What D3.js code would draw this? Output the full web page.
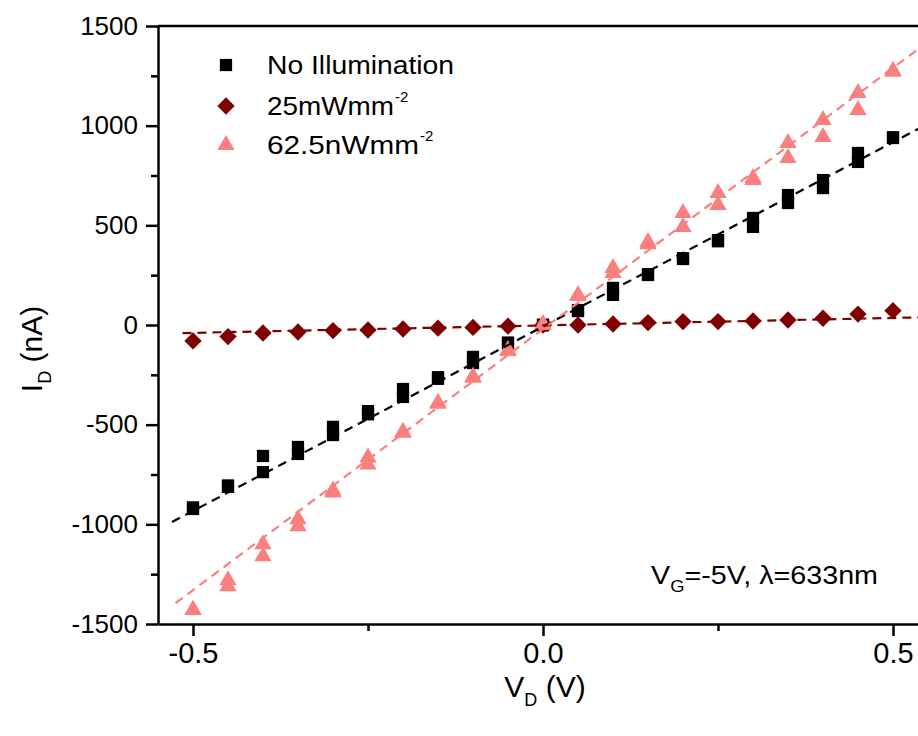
<!DOCTYPE html>
<html>
<head>
<meta charset="utf-8">
<script src="https://cdn.jsdelivr.net/npm/d3@7"></script>
<style>
  body { margin: 0; background: #fff; }
  svg { display: block; font-family: Arial, "Liberation Sans", sans-serif; }
</style>
</head>
<body>
<div id="chart"></div>
<script>
// drain voltage (V), one sample every 50 mV
var voltage = [-0.5, -0.45, -0.4, -0.35, -0.3, -0.25, -0.2, -0.15, -0.1, -0.05, 0,
               0.05, 0.1, 0.15, 0.2, 0.25, 0.3, 0.35, 0.4, 0.45, 0.5];

// drain current (nA), two sweeps for the dark and weak-light runs
var darkSweep1 = [-923, -812, -657, -612, -511, -432, -321, -262, -160, -88, -2,
                  75, 186, 251, 331, 426, 537, 652, 727, 863, 938];
var darkSweep2 = [-915, -805, -738, -647, -552, -448, -361, -270, -191, -92, 2,
                  70, 151, 255, 335, 420, 492, 612, 687, 818, 942];
var strongLight = [-80, -58, -40, -35, -28, -25, -20, -16, -12, -6, 0,
                   0, 5, 12, 17, 17, 20, 25, 34, 55, 72];
var weakSweep1 = [-1430, -1280, -1100, -975, -830, -665, -535, -390, -260, -125, 0,
                  150, 286, 416, 562, 662, 738, 913, 1029, 1164, 1270];
var weakSweep2 = [-1430, -1310, -1160, -1010, -840, -700, -540, -395, -265, -130, 5,
                  145, 261, 405, 492, 602, 728, 838, 943, 1079, 1275];

// linear fits: slope (nA/V), intercept (nA), first voltage
var fitSlope = [1850, 75, 2620];
var fitIntercept = [-8, -2, -20];
var fitStart = [-0.53, -0.515, -0.525];

var seriesNames = ["No Illumination", "25mWmm", "62.5nWmm"];
var seriesSup = ["", "-2", "-2"];
var colors = ["#000000", "#7f0000", "#fa8080"];

var yTicks = [-1500, -1000, -500, 0, 500, 1000, 1500];
var yMinorTicks = [-1250, -750, -250, 250, 750, 1250];
var xTicks = [-0.5, 0.0, 0.5];
var xMinorTicks = [-0.25, 0.25];

var width = 918, height = 736;

var svg = d3.select("#chart")
  .append("svg")
    .attr("width", width)
    .attr("height", height);

// scales (right end of the frame runs off the picture)
var x = d3.scaleLinear().domain([-0.55, 0.6]).range([158, 963]);
var y = d3.scaleLinear().domain([-1500, 1500]).range([624, 26]);

// minor ticks first, then the main axes on top
svg.append("g")
    .attr("transform", "translate(158,0)")
    .call(d3.axisLeft(y).tickValues(yMinorTicks).tickSize(7).tickFormat(""))
    .call(function(g) { g.select(".domain").remove(); })
    .selectAll("line").attr("stroke-width", 2.5);

svg.append("g")
    .attr("transform", "translate(0,624)")
    .call(d3.axisBottom(x).tickValues(xMinorTicks).tickSize(7).tickFormat(""))
    .call(function(g) { g.select(".domain").remove(); })
    .selectAll("line").attr("stroke-width", 2.5);

var yAxis = svg.append("g")
    .attr("transform", "translate(158,0)")
    .call(d3.axisLeft(y).tickValues(yTicks).tickSize(12).tickSizeOuter(0).tickPadding(8)
      .tickFormat(function(d) { return String(d); }));
yAxis.select(".domain").attr("stroke-width", 2.5);
yAxis.selectAll("line").attr("stroke-width", 2.5);
yAxis.selectAll("text")
    .attr("font-size", 26)
    .attr("fill", "#000")
    .attr("font-family", "Arial, 'Liberation Sans', sans-serif");

var xAxis = svg.append("g")
    .attr("transform", "translate(0,624)")
    .call(d3.axisBottom(x).tickValues(xTicks).tickSize(12).tickSizeOuter(0).tickPadding(6)
      .tickFormat(function(d) { return d.toFixed(1); }));
xAxis.select(".domain").attr("stroke-width", 2.5);
xAxis.selectAll("line").attr("stroke-width", 2.5);
xAxis.selectAll("text")
    .attr("font-size", 29)
    .attr("fill", "#000")
    .attr("font-family", "Arial, 'Liberation Sans', sans-serif");

// top frame line
svg.append("line")
    .attr("x1", x(-0.55)).attr("x2", x(0.6))
    .attr("y1", y(1500)).attr("y2", y(1500))
    .attr("stroke", "#000")
    .attr("stroke-width", 2.5);

// axis titles
var yTitle = svg.append("text")
    .attr("transform", "translate(42," + 349 + ") rotate(-90)")
    .attr("text-anchor", "middle")
    .attr("font-size", 30);
yTitle.append("tspan").text("I");
yTitle.append("tspan").attr("font-size", 18).attr("dy", 9).text("D");
yTitle.append("tspan").attr("dy", -9).text(" (nA)");

var xTitle = svg.append("text")
    .attr("x", 545)
    .attr("y", 697)
    .attr("text-anchor", "middle")
    .attr("font-size", 30);
xTitle.append("tspan").text("V");
xTitle.append("tspan").attr("font-size", 18).attr("dy", 9).text("D");
xTitle.append("tspan").attr("dy", -9).text(" (V)");

// markers
var square = d3.symbol().type(d3.symbolSquare).size(150);
var diamond = d3.symbol().type(d3.symbolSquare).size(150);
var triangle = d3.symbol().type(d3.symbolTriangle).size(130);

function drawPoints(values, shape, color, rotate) {
  svg.append("g").selectAll("path")
      .data(values)
    .enter().append("path")
      .attr("d", shape)
      .attr("transform", function(d, i) {
        return "translate(" + x(voltage[i]) + "," + y(d) + ")" + (rotate ? " rotate(45)" : "");
      })
      .attr("fill", color);
}

drawPoints(darkSweep1, square, colors[0], false);
drawPoints(darkSweep2, square, colors[0], false);
drawPoints(strongLight, diamond, colors[1], true);
drawPoints(weakSweep1, triangle, colors[2], false);
drawPoints(weakSweep2, triangle, colors[2], false);

// dashed fit lines
var fitLine = d3.line()
    .x(function(d) { return x(d[0]); })
    .y(function(d) { return y(d[1]); });

for (var k = 0; k < fitSlope.length; k++) {
  var ends = [fitStart[k], 0.6].map(function(v) { return [v, fitSlope[k] * v + fitIntercept[k]]; });
  svg.append("path")
      .datum(ends)
      .attr("d", fitLine)
      .attr("fill", "none")
      .attr("stroke", colors[k])
      .attr("stroke-width", 2.2)
      .attr("stroke-dasharray", "9,6");
}

// legend
var legendRows = [65, 106, 145];
var legendShapes = [square, diamond, triangle];
var legendWidths = [187, 127, 152];
for (var j = 0; j < seriesNames.length; j++) {
  svg.append("path")
      .attr("d", legendShapes[j])
      .attr("transform", "translate(226," + legendRows[j] + ")" + (j == 1 ? " rotate(45)" : ""))
      .attr("fill", colors[j]);
  svg.append("text")
      .attr("x", 267)
      .attr("y", legendRows[j] + 9)
      .attr("font-size", 25)
      .attr("textLength", legendWidths[j])
      .attr("lengthAdjust", "spacingAndGlyphs")
      .text(seriesNames[j]);
  if (seriesSup[j]) {
    svg.append("text")
        .attr("x", 267 + legendWidths[j] + 1)
        .attr("y", legendRows[j] - 4)
        .attr("font-size", 15)
        .text(seriesSup[j]);
  }
}

// measurement conditions
var note = svg.append("text")
    .attr("x", 651)
    .attr("y", 584)
    .attr("font-size", 25)
    .attr("textLength", 227)
    .attr("lengthAdjust", "spacingAndGlyphs");
note.append("tspan").text("V");
note.append("tspan").attr("font-size", 16).attr("dy", 8).text("G");
note.append("tspan").attr("dy", -8).text("=-5V, \u03bb=633nm");
</script>
</body>
</html>
